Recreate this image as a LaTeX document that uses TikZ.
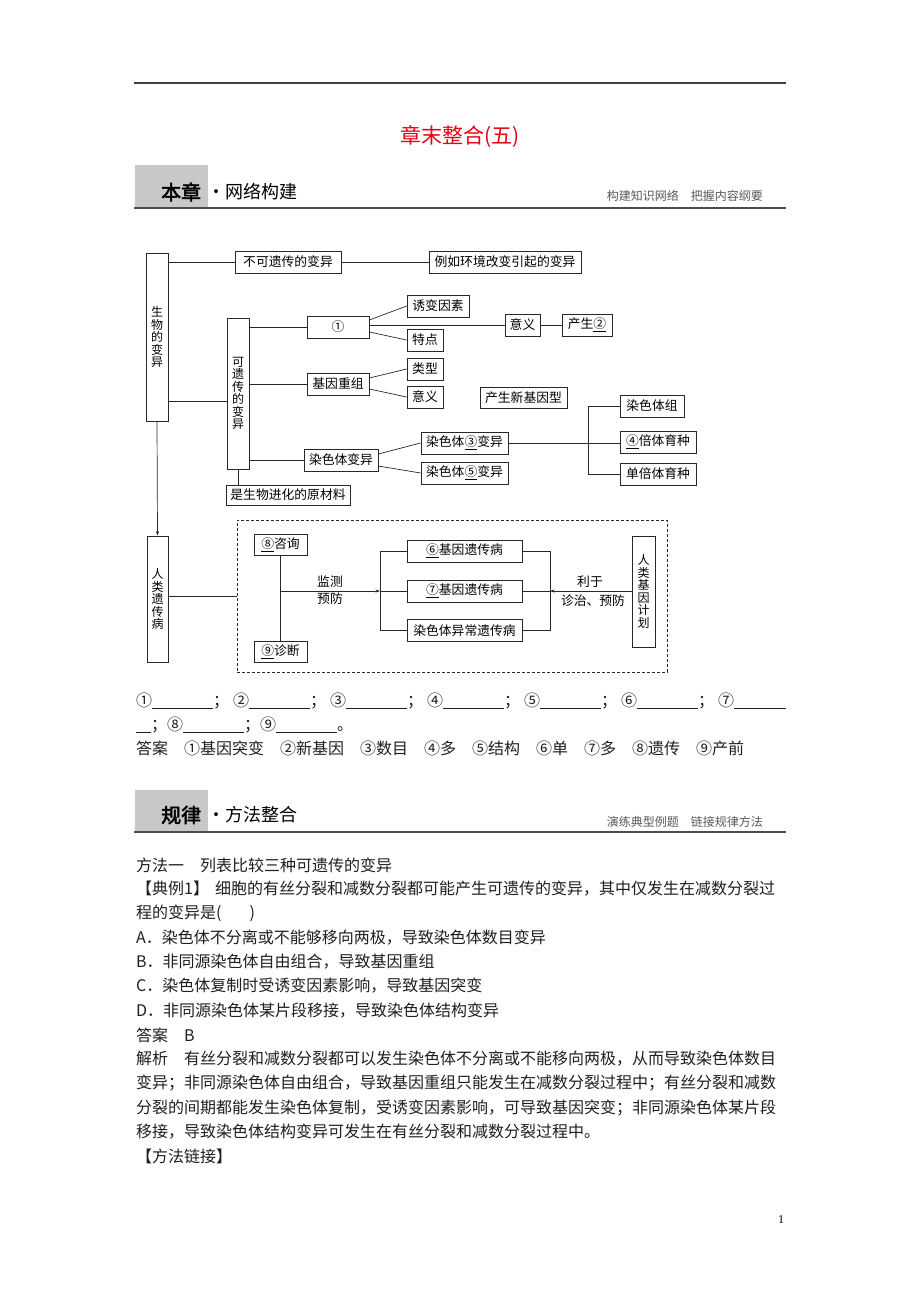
\documentclass[tikz,border=0pt]{standalone}
\usepackage{fontspec}
\setmainfont{Noto Sans CJK SC}
\newfontfamily\hdb[FakeBold=2.5]{Noto Sans CJK SC}
\newfontfamily\latn{Liberation Serif}
\usetikzlibrary{arrows.meta}
\XeTeXlinebreaklocale "zh"
\XeTeXlinebreakskip=0pt plus 2pt
\definecolor{ttlred}{RGB}{230,0,18}
\definecolor{hdgray}{RGB}{200,200,200}
\definecolor{ln}{RGB}{40,40,40}
\newcommand{\jline}[1]{\makebox[650pt][s]{#1}}
\tikzset{
 bx/.style={draw=ln, line width=0.7pt, inner sep=0pt, font=\fontsize{12.8}{14}\selectfont, text=black},
 vbx/.style={bx, align=center, font=\fontsize{12}{12.5}\selectfont},
 conn/.style={draw=ln, line width=0.7pt},
 arr/.style={conn, -{Stealth[length=4.5pt,width=3.2pt]}},
 lbl/.style={inner sep=0pt, font=\fontsize{12.8}{14}\selectfont, text=black},
 body/.style={anchor=west, inner sep=0pt, font=\fontsize{16}{18}\selectfont, text=black!88},
 side/.style={anchor=east, inner sep=0pt, font=\fontsize{12}{14}\selectfont, text=black!65},
 hdbox/.style={fill=hdgray, minimum width=73pt, minimum height=42pt, inner sep=0pt},
 hdbig/.style={anchor=west, inner sep=0pt, font=\hdb\fontsize{20}{22}\selectfont, text=black},
 hdsmall/.style={anchor=west, inner sep=0pt, font=\fontsize{18}{20}\selectfont, text=black},
}
\begin{document}
\begin{tikzpicture}[x=1pt,y=-1pt]
\useasboundingbox[fill=white] (0,0) rectangle (920,1302);
% top rule and title
\draw[line width=1.6pt, black!75] (134,83) -- (786,83);
\node[font=\fontsize{21}{24}\selectfont, text=ttlred, inner sep=0pt] (title) at (460,137) {章末整合(五)};
% header 1
\node[hdbox] (hd1) at (171.5,186) {};
\draw[line width=2.6pt, black!70] (134,208) -- (786,208);
\node[hdbig] (hd1a) at (161,192) {本章};
\node[hdsmall] (hd1c) at (207,192) {·网络构建};
\node[side] (hd1r) at (786,196) {\makebox[179pt][s]{构建知识网络\hspace{12pt}把握内容纲要}};

% ---------- diagram ----------
\node[vbx, minimum width=22pt, minimum height=168pt] (swby) at (157,337) {生\\物\\的\\变\\异};
\node[bx, minimum width=106pt, minimum height=22pt] (bkyc) at (288,262) {不可遗传的变异};
\node[bx, minimum width=152pt, minimum height=22pt] (lrhj) at (505,262) {例如环境改变引起的变异};
\node[vbx, minimum width=22pt, minimum height=151pt] (kyc) at (238,393.5) {可\\遗\\传\\的\\变\\异};
\node[bx, minimum width=62pt, minimum height=22pt] (n1) at (338,327) {①};
\node[bx, minimum width=62pt, minimum height=22pt] (ybys) at (438,306) {诱变因素};
\node[bx, minimum width=36pt, minimum height=22pt] (td) at (425,340) {特点};
\node[bx, minimum width=35pt, minimum height=22pt] (yy1) at (522.5,325) {意义};
\node[bx, minimum width=50pt, minimum height=22pt] (cs2) at (587,325) {产生\underline{②}};
\node[bx, minimum width=62pt, minimum height=22pt] (jycz) at (338,384) {基因重组};
\node[bx, minimum width=36pt, minimum height=22pt] (lx) at (425,369) {类型};
\node[bx, minimum width=36pt, minimum height=22pt] (yy2) at (425,397) {意义};
\node[bx, minimum width=87pt, minimum height=21pt] (csxj) at (523.5,397.5) {产生新基因型};
\node[bx, minimum width=74pt, minimum height=22pt] (rstby) at (341,460) {染色体变异};
\node[bx, minimum width=87pt, minimum height=22pt] (rst3) at (464.5,443) {染色体\underline{③}变异};
\node[bx, minimum width=87pt, minimum height=22pt] (rst5) at (464.5,473) {染色体\underline{⑤}变异};
\node[bx, minimum width=64pt, minimum height=22pt] (rstz) at (652,406) {染色体组};
\node[bx, minimum width=76pt, minimum height=22pt] (bt4) at (658,442) {\underline{④}倍体育种};
\node[bx, minimum width=76pt, minimum height=22pt] (dbt) at (658,474) {单倍体育种};
\node[bx, minimum width=124pt, minimum height=20pt] (ycl) at (288,495) {是生物进化的原材料};

\coordinate (r1) at (0,401);
\coordinate (brA) at (588,0);
\draw[conn] (swby.east |- bkyc.west) -- (bkyc.west);
\draw[conn] (bkyc.east) -- (lrhj.west);
\draw[conn] (swby.east |- r1) -- (kyc.west |- r1);
\draw[conn] (kyc.east |- n1.west) -- (n1.west);
\draw[conn] ([yshift=7pt]n1.east) -- (ybys.west);
\draw[conn] ([yshift=-5pt]n1.east) -- (td.west);
\draw[conn] (n1.east |- yy1.west) -- (yy1.west);
\draw[conn] (yy1.east) -- (cs2.west);
\draw[conn] (kyc.east |- jycz.west) -- (jycz.west);
\draw[conn] ([yshift=6pt]jycz.east) -- (lx.west);
\draw[conn] ([yshift=-5pt]jycz.east) -- (yy2.west);
\draw[conn] (kyc.east |- rstby.west) -- (rstby.west);
\draw[conn] ([yshift=6pt]rstby.east) -- (rst3.west);
\draw[conn] ([yshift=-6pt]rstby.east) -- (rst5.west);
\draw[conn] (rst3.east) -- (rst3.east -| bt4.west);
\draw[conn] (rstz.west) -- (rstz.west -| brA) -- (dbt.west -| brA) -- (dbt.west);
\draw[conn] (kyc.south) -- (kyc.south |- ycl.north);

% lower part
\node[vbx, minimum width=21pt, minimum height=126pt] (rlycb) at (157.5,599) {人\\类\\遗\\传\\病};
\draw[arr] (swby.south) -- (rlycb.north);
\node[draw=ln, line width=0.7pt, dash pattern=on 3pt off 2pt, minimum width=430pt, minimum height=152pt, inner sep=0pt] (dash) at (452,596) {};
\draw[conn] (rlycb.east |- dash.west) -- (dash.west);
\node[bx, minimum width=53pt, minimum height=21pt] (zx8) at (280.5,544.5) {\underline{⑧}咨询};
\node[bx, minimum width=53pt, minimum height=21pt] (zd9) at (280.5,651.5) {\underline{⑨}诊断};
\node[bx, minimum width=115pt, minimum height=22pt] (jy6) at (464.5,551) {\underline{⑥}基因遗传病};
\node[bx, minimum width=115pt, minimum height=22pt] (jy7) at (464.5,591) {\underline{⑦}基因遗传病};
\node[bx, minimum width=115pt, minimum height=22pt] (rsyc) at (464.5,630.5) {染色体异常遗传病};
\node[vbx, minimum width=23pt, minimum height=111pt] (rljy) at (643.5,591.5) {人\\类\\基\\因\\计\\划};
\coordinate (brL) at (380,0);
\coordinate (brR) at (550,0);
\draw[conn] (zx8.south) -- (zd9.north);
\draw[arr] (zx8.south |- jy7.west) -- (jy7.west -| brL);
\draw[conn] (jy6.west) -- (jy6.west -| brL) -- (rsyc.west -| brL) -- (rsyc.west);
\draw[conn] (jy7.west -| brL) -- (jy7.west);
\draw[conn] (jy6.east) -- (jy6.east -| brR) -- (rsyc.east -| brR) -- (rsyc.east);
\draw[conn] (jy7.east) -- (jy7.east -| brR);
\draw[arr] (rljy.west |- jy7.east) -- (jy7.east -| brR);
\node[lbl] (jc) at (330,582) {监测};
\node[lbl] (yf) at (330,599) {预防};
\node[lbl] (ly) at (590,582) {利于};
\node[lbl] (zz) at (593,601) {诊治、预防};

% ---------- blanks and answers ----------
\node[body] (q1) at (136,701) {①\underline{\hspace{61pt}}；};
\node[body] (q2) at (233,701) {②\underline{\hspace{61pt}}；};
\node[body] (q3) at (330,701) {③\underline{\hspace{61pt}}；};
\node[body] (q4) at (427,701) {④\underline{\hspace{61pt}}；};
\node[body] (q5) at (524,701) {⑤\underline{\hspace{61pt}}；};
\node[body] (q6) at (621,701) {⑥\underline{\hspace{61pt}}；};
\node[body] (q7) at (718,701) {⑦\underline{\hspace{52pt}}};
\node[body] (q8) at (136,725) {\underline{\hspace{15pt}}；⑧\underline{\hspace{61pt}}；⑨\underline{\hspace{61pt}}。};
\node[body] (ans) at (136,748) {答案　①基因突变　②新基因　③数目　④多　⑤结构　⑥单　⑦多　⑧遗传　⑨产前};

% header 2
\node[hdbox] (hd2) at (171.5,810.5) {};
\draw[line width=2.6pt, black!70] (134,832) -- (786,832);
\node[hdbig] (hd2a) at (161,815) {规律};
\node[hdsmall] (hd2c) at (207,815) {·方法整合};
\node[side] (hd2r) at (786,822) {\makebox[179pt][s]{演练典型例题\hspace{12pt}链接规律方法}};

% body text
\node[body] (b1) at (136,865) {方法一　列表比较三种可遗传的变异};
\node[body] (b2) at (136,889) {\jline{【典例1】\hspace{6pt}细胞的有丝分裂和减数分裂都可能产生可遗传的变异，其中仅发生在减数分裂过}};
\node[body] (b3) at (136,913) {程的变异是(\hspace{28pt})};
\node[body] (b4) at (136,938) {A．染色体不分离或不能够移向两极，导致染色体数目变异};
\node[body] (b5) at (136,962) {B．非同源染色体自由组合，导致基因重组};
\node[body] (b6) at (136,986) {C．染色体复制时受诱变因素影响，导致基因突变};
\node[body] (b7) at (136,1011) {D．非同源染色体某片段移接，导致染色体结构变异};
\node[body] (b8) at (136,1035) {答案　B};
\node[body] (b9) at (136,1059) {\jline{解析　有丝分裂和减数分裂都可以发生染色体不分离或不能移向两极，从而导致染色体数目}};
\node[body] (b10) at (136,1083) {\jline{变异；非同源染色体自由组合，导致基因重组只能发生在减数分裂过程中；有丝分裂和减数}};
\node[body] (b11) at (136,1108) {\jline{分裂的间期都能发生染色体复制，受诱变因素影响，可导致基因突变；非同源染色体某片段}};
\node[body] (b12) at (136,1132) {移接，导致染色体结构变异可发生在有丝分裂和减数分裂过程中。};
\node[body] (b13) at (136,1156) {【方法链接】};
\node[inner sep=0pt, font=\latn\fontsize{12}{14}\selectfont] (pg) at (781,1220) {1};
\end{tikzpicture}
\end{document}
